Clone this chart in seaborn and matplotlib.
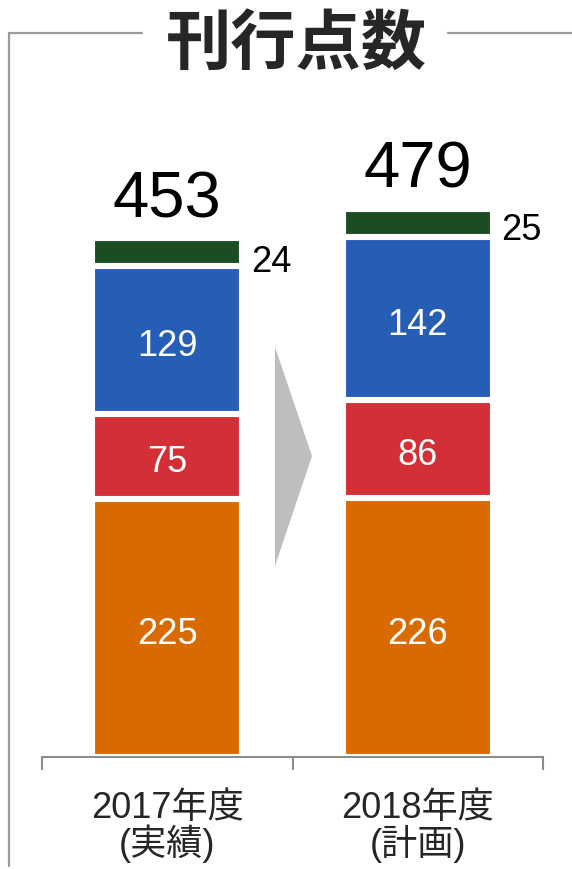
import matplotlib
matplotlib.use("Agg")
import matplotlib.pyplot as plt
from matplotlib.lines import Line2D
from matplotlib.patches import Polygon
import seaborn as sns
import pandas as pd
import numpy as np

# ---- data ----
categories = ["2017年度\n(実績)", "2018年度\n(計画)"]
seg_orange = [225, 226]
seg_red = [75, 86]
seg_blue = [129, 142]
seg_green = [24, 25]
totals = [453, 479]
title = "刊行点数"

colors = {"orange": "#D86A00", "red": "#D32F37", "blue": "#265EB6", "green": "#1C4D22"}

sns.set_style("white")
plt.rcParams["font.family"] = ["Liberation Sans", "Noto Sans CJK JP", "DejaVu Sans"]

W, H = 572, 870
fig = plt.figure(figsize=(W / 100, H / 100), dpi=100)

px_per_unit = 1.145
ymax = 600
ax_bottom_px = 758
ax_h_px = ymax * px_per_unit
ax = fig.add_axes([42 / W, (H - ax_bottom_px) / H, 501 / W, ax_h_px / H])

# cumulative stacks, drawn from tallest to shortest
segments = [("orange", seg_orange), ("red", seg_red), ("blue", seg_blue), ("green", seg_green)]
cum = np.cumsum([s[1] for s in segments], axis=0)
lw = 4.4
for idx in range(len(segments) - 1, -1, -1):
    name = segments[idx][0]
    df = pd.DataFrame({"cat": categories, "val": cum[idx]})
    sns.barplot(data=df, x="cat", y="val", color=colors[name], width=0.6,
                edgecolor="white", linewidth=lw, saturation=1, ax=ax)

ax.set_xlim(-0.5, 1.5)
ax.set_ylim(0, ymax)
ax.set_xlabel("")
ax.set_ylabel("")
ax.set_yticks([])
for s in ["top", "left", "right"]:
    ax.spines[s].set_visible(False)
ax.spines["bottom"].set_color("#8C8C8C")
ax.spines["bottom"].set_linewidth(1.5)

ax.set_xticks([0, 1])
ax.set_xticklabels(categories, fontsize=26, linespacing=0.95)
ax.set_xticks([-0.5, 0.5, 1.5], minor=True)
ax.tick_params(axis="x", which="major", length=0, pad=24)
ax.tick_params(axis="x", which="minor", length=9, width=1.5, color="#8C8C8C", direction="out")
ax.xaxis.set_ticks_position("bottom")

# inside labels
for i in range(len(categories)):
    bottoms = [0] + list(cum[:-1, i])
    for j, (name, vals) in enumerate(segments[:3]):
        center = bottoms[j] + vals[i] / 2
        ax.annotate(str(vals[i]), (i, center), xytext=(0, -4), textcoords="offset points",
                    ha="center", va="center", color="white", fontsize=26)
    # green label outside
    gc = bottoms[3] + seg_green[i] / 2
    ax.annotate(str(seg_green[i]), (i + 0.3, gc), xytext=(6, -5 - 2 * (1 - i)), textcoords="offset points",
                ha="left", va="center", color="black", fontsize=26)
    # total
    ax.annotate(str(totals[i]), (i, totals[i]), xytext=(0, 16), textcoords="offset points",
                ha="center", va="baseline", color="black", fontsize=47)

# title and frame lines
fig.text(296 / W, 1 - 44 / H, title, ha="center", va="center", fontsize=47,
         fontweight="bold", family=["Noto Sans CJK JP"])
lc = "#9A9A9A"
fig.add_artist(Line2D([9 / W, 142 / W], [1 - 34 / H, 1 - 34 / H], color=lc, lw=1.6))
fig.add_artist(Line2D([448 / W, 1.0], [1 - 34 / H, 1 - 34 / H], color=lc, lw=1.6))
fig.add_artist(Line2D([9 / W, 9 / W], [1 - 34 / H, 1 - 867 / H], color=lc, lw=1.6))

# arrow
arrow_pts = [(275 / W, 1 - 348 / H), (275 / W, 1 - 567 / H), (312 / W, 1 - 457 / H)]
fig.add_artist(Polygon(arrow_pts, closed=True, transform=fig.transFigure,
                       facecolor="#BEBEBE", edgecolor="none"))

fig.savefig("out.png", dpi=100)
